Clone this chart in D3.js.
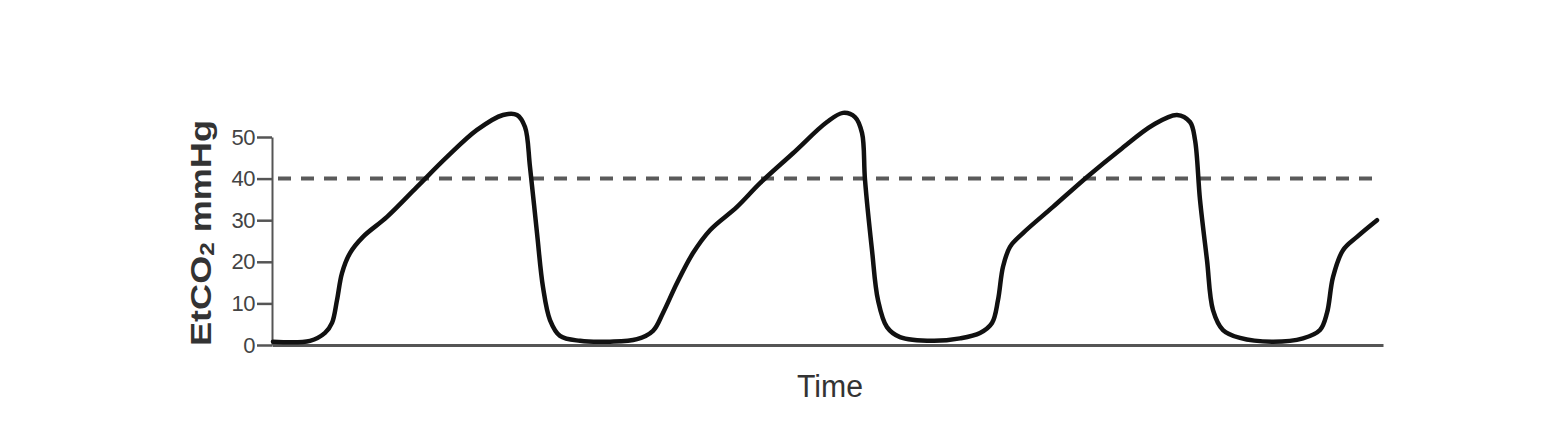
<!DOCTYPE html>
<html>
<head>
<meta charset="utf-8">
<script src="https://cdn.jsdelivr.net/npm/d3@7"></script>
<style>
  html, body { margin: 0; padding: 0; background: #ffffff; }
  svg { display: block; }
</style>
</head>
<body>
<svg id="chart" width="1564" height="432"></svg>
<script>
// ---- data (time in seconds, EtCO2 in mmHg) ----
const timeSec = [
  0.01, 0.38, 0.53, 0.60, 0.65, 0.70, 0.78, 0.91, 1.15, 1.45, 1.75, 2.05, 2.31, 2.45,
  2.53, 2.58, 2.65, 2.71, 2.78, 2.88, 3.08, 3.38, 3.65, 3.81, 3.91, 4.05, 4.21, 4.38,
  4.65, 4.88, 5.21, 5.55, 5.71, 5.83, 5.90, 5.93, 6.00, 6.06, 6.15, 6.28, 6.61, 6.88,
  7.08, 7.20, 7.26, 7.31, 7.38, 7.51, 7.81, 8.15, 8.48, 8.81, 9.05, 9.18, 9.23, 9.28,
  9.35, 9.41, 9.51, 9.68, 10.01, 10.31, 10.48, 10.55, 10.61, 10.71, 10.85, 11.05
];
const etco2 = [
  0.8, 1.0, 2.9, 5.3, 10.8, 17.3, 22.1, 26.0, 30.8, 38.0, 45.2, 51.7, 55.3, 55.3,
  52.4, 42.8, 26.9, 13.9, 6.0, 2.2, 1.0, 0.8, 1.4, 3.4, 7.7, 14.9, 22.1, 27.6,
  33.2, 38.9, 46.1, 53.6, 55.8, 54.8, 51.0, 39.7, 22.8, 10.8, 4.3, 1.9, 1.0, 1.6,
  2.9, 5.3, 10.8, 18.8, 23.6, 26.9, 33.2, 40.4, 46.9, 52.9, 55.3, 53.6, 49.3, 34.9,
  20.4, 8.4, 3.6, 1.7, 0.8, 1.6, 3.6, 7.7, 16.3, 22.8, 26.0, 30.0
];
const yTicks = [0, 10, 20, 30, 40, 50];
const threshold = 40;
const xDomain = [0, 11.11];
const yDomain = [0, 50];
const yLabel = "EtCO";
const yLabelSub = "2";
const yLabelRest = " mmHg";
const xLabel = "Time";

// ---- layout ----
const svg = d3.select("#chart");
const mLeft = 272, mRight = 1383, mBottom = 345, mTop = 137;

const x = d3.scaleLinear().domain(xDomain).range([mLeft, mRight]);
const y = d3.scaleLinear().domain(yDomain).range([mBottom, mTop]);

// dashed threshold line
svg.append("line")
  .attr("x1", x(0) + 6).attr("x2", x(xDomain[1]) - 5)
  .attr("y1", y(threshold)).attr("y2", y(threshold))
  .attr("stroke", "#5a5a5a").attr("stroke-width", 4)
  .attr("stroke-dasharray", "13,10");

// x axis
const xAxis = svg.append("g")
  .attr("transform", `translate(0,${mBottom})`)
  .call(d3.axisBottom(x).tickValues([]).tickSizeOuter(0));
xAxis.select(".domain").attr("stroke", "#555").attr("stroke-width", 3);

// y axis
const yAxis = svg.append("g")
  .attr("transform", `translate(${mLeft},0)`)
  .call(d3.axisLeft(y).tickValues(yTicks).tickSize(15).tickSizeOuter(0).tickPadding(2));
yAxis.select(".domain").attr("stroke", "#555").attr("stroke-width", 2);
yAxis.selectAll(".tick line").attr("stroke", "#555").attr("stroke-width", 2.5);
yAxis.selectAll(".tick text")
  .attr("fill", "#444")
  .style("font-family", "Liberation Sans, Arial, sans-serif")
  .style("font-size", "22px")
  .style("letter-spacing", "-0.5px");

// waveform
const pts = timeSec.map((t, i) => [t, etco2[i]]);
const line = d3.line()
  .x(d => x(d[0]))
  .y(d => y(d[1]))
  .curve(d3.curveCatmullRom.alpha(0.5));
svg.append("path")
  .datum(pts)
  .attr("d", line)
  .attr("fill", "none")
  .attr("stroke", "#111")
  .attr("stroke-width", 4.5)
  .attr("stroke-linejoin", "round")
  .attr("stroke-linecap", "round");

// y label
const yl = svg.append("text")
  .attr("transform", "translate(211,233) rotate(-90)")
  .attr("text-anchor", "middle")
  .attr("fill", "#333")
  .style("font-family", "Liberation Sans, Arial, sans-serif")
  .style("font-weight", "bold")
  .style("font-size", "30px")
  .attr("textLength", 226)
  .attr("lengthAdjust", "spacingAndGlyphs");
yl.append("tspan").text(yLabel);
yl.append("tspan").text(yLabelSub).style("font-size", "20px").attr("dy", 3);
yl.append("tspan").text(yLabelRest).attr("dy", -3);

// x label
svg.append("text")
  .attr("x", 830).attr("y", 397)
  .attr("text-anchor", "middle")
  .attr("fill", "#333")
  .style("font-family", "Liberation Sans, Arial, sans-serif")
  .style("font-size", "31px")
  .attr("textLength", 66)
  .attr("lengthAdjust", "spacingAndGlyphs")
  .text(xLabel);
</script>
</body>
</html>
